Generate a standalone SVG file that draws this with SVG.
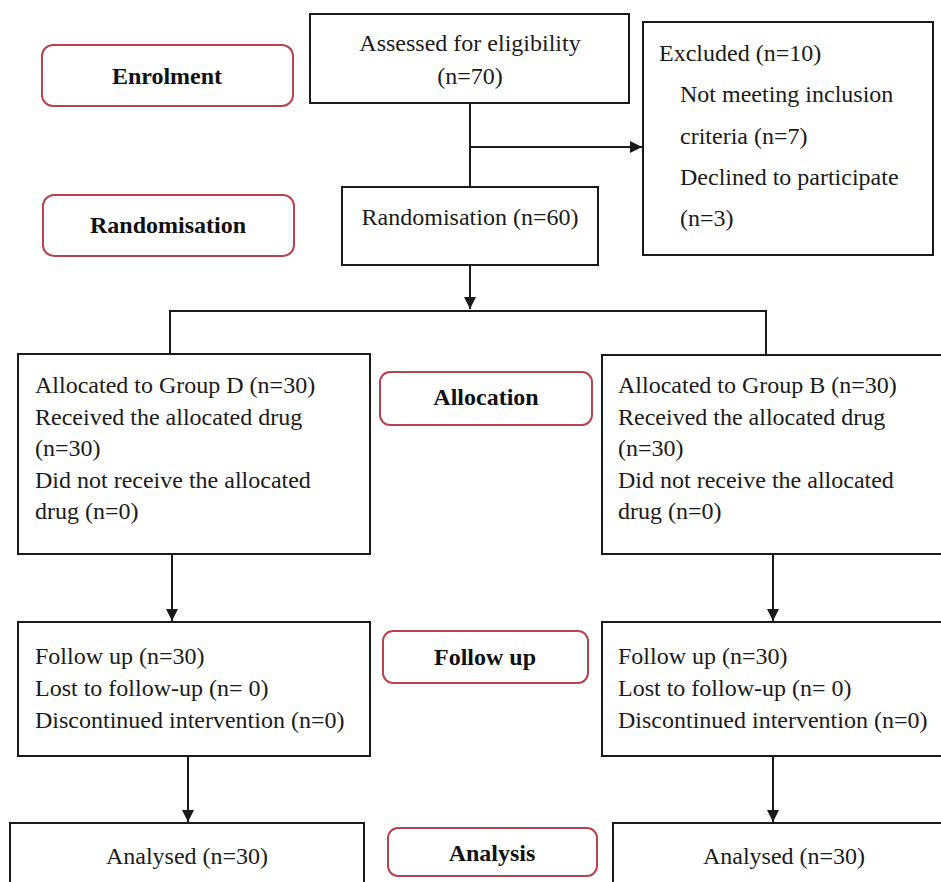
<svg xmlns="http://www.w3.org/2000/svg" width="941" height="882" viewBox="0 0 941 882">
<style>
.box{fill:#fff;stroke:#1a1a1a;stroke-width:2}
.pill{fill:#fff;stroke:#b8434f;stroke-width:2}
.t{font-family:"Liberation Serif","Times New Roman",serif;font-size:24px;fill:#1a1a1a}
.b{font-family:"Liberation Serif","Times New Roman",serif;font-size:24px;font-weight:bold;fill:#111;text-anchor:middle}
.c{text-anchor:middle}
.ln{fill:none;stroke:#1a1a1a;stroke-width:2}
</style>
<defs>
<marker id="ah" viewBox="0 0 10 10" refX="10" refY="5" markerWidth="6" markerHeight="6" markerUnits="strokeWidth" orient="auto">
<path d="M0,0 L10,5 L0,10 z" fill="#1a1a1a"/>
</marker>
</defs>
<rect width="941" height="882" fill="#fff"/>
<g id="connectors">
<path class="ln" d="M470,103 V186"/>
<path class="ln" d="M470,147 H642" marker-end="url(#ah)"/>
<path class="ln" d="M470,265 V309" marker-end="url(#ah)"/>
<path class="ln" d="M170,354 V311 H766 V355"/>
<path class="ln" d="M172,554 V621" marker-end="url(#ah)"/>
<path class="ln" d="M773,554 V621" marker-end="url(#ah)"/>
<path class="ln" d="M188,756 V822" marker-end="url(#ah)"/>
<path class="ln" d="M773,756 V822" marker-end="url(#ah)"/>
</g>
<g id="enrolment-label"><rect class="pill" x="42" y="45" width="251" height="61" rx="11"/><text class="b" x="167" y="84">Enrolment</text></g>
<g id="randomisation-label"><rect class="pill" x="43" y="195" width="251" height="61" rx="11"/><text class="b" x="168" y="233">Randomisation</text></g>
<g id="allocation-label"><rect class="pill" x="380" y="372" width="212" height="53" rx="10"/><text class="b" x="486" y="405">Allocation</text></g>
<g id="followup-label"><rect class="pill" x="383" y="631" width="205" height="52" rx="10"/><text class="b" x="485" y="665">Follow up</text></g>
<g id="analysis-label"><rect class="pill" x="388" y="828" width="209" height="48" rx="10"/><text class="b" x="492" y="861">Analysis</text></g>
<g id="assessed"><rect class="box" x="310" y="14" width="319" height="89"/>
<text class="t c" x="470" y="51">Assessed for eligibility</text>
<text class="t c" x="470" y="84">(n=70)</text></g>
<g id="excluded"><rect class="box" x="643" y="22" width="290" height="233"/>
<text class="t" x="659" y="61">Excluded (n=10)</text>
<text class="t" x="680" y="102">Not meeting inclusion</text>
<text class="t" x="680" y="144">criteria (n=7)</text>
<text class="t" x="680" y="185">Declined to participate</text>
<text class="t" x="680" y="226">(n=3)</text></g>
<g id="randomisation"><rect class="box" x="342" y="187" width="256" height="78"/>
<text class="t c" x="470" y="225">Randomisation (n=60)</text></g>
<g id="group-d"><rect class="box" x="18" y="354" width="352" height="200"/>
<text class="t" x="35" y="393">Allocated to Group D (n=30)</text>
<text class="t" x="35" y="425">Received the allocated drug</text>
<text class="t" x="35" y="456">(n=30)</text>
<text class="t" x="35" y="488">Did not receive the allocated</text>
<text class="t" x="35" y="519">drug (n=0)</text></g>
<g id="group-b"><rect class="box" x="602" y="355" width="345" height="199"/>
<text class="t" x="618" y="393">Allocated to Group B (n=30)</text>
<text class="t" x="618" y="425">Received the allocated drug</text>
<text class="t" x="618" y="456">(n=30)</text>
<text class="t" x="618" y="488">Did not receive the allocated</text>
<text class="t" x="618" y="519">drug (n=0)</text></g>
<g id="followup-d"><rect class="box" x="18" y="622" width="352" height="134"/>
<text class="t" x="35" y="664">Follow up (n=30)</text>
<text class="t" x="35" y="696">Lost to follow-up (n= 0)</text>
<text class="t" x="35" y="728">Discontinued intervention (n=0)</text></g>
<g id="followup-b"><rect class="box" x="602" y="622" width="345" height="134"/>
<text class="t" x="618" y="664">Follow up (n=30)</text>
<text class="t" x="618" y="696">Lost to follow-up (n= 0)</text>
<text class="t" x="618" y="728">Discontinued intervention (n=0)</text></g>
<g id="analysed-d"><rect class="box" x="10" y="823" width="354" height="70"/>
<text class="t c" x="187" y="864">Analysed (n=30)</text></g>
<g id="analysed-b"><rect class="box" x="613" y="823" width="334" height="70"/>
<text class="t c" x="784" y="864">Analysed (n=30)</text></g>
</svg>
